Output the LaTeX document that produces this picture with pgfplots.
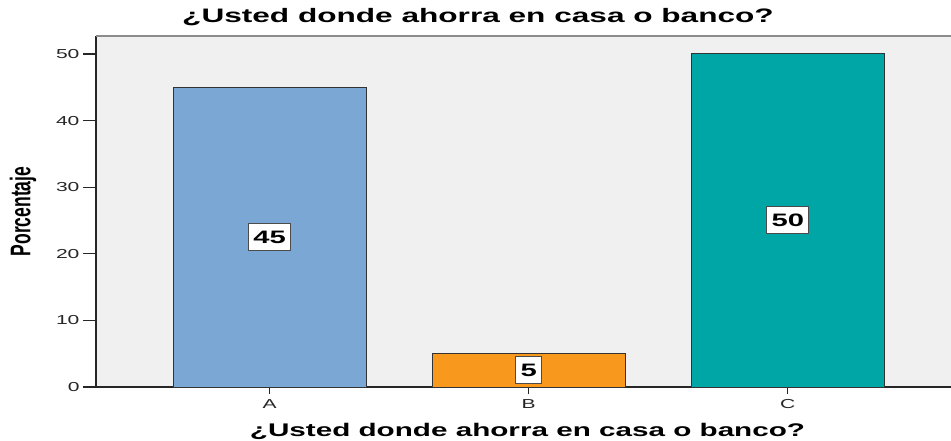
\documentclass[border=0pt]{standalone}
\usepackage{fontspec}
\usepackage{pgfplots}
\pgfplotsset{compat=1.18}
\setmainfont{Liberation Sans}
% the reference is stretched sideways, so are its fonts
\newfontfamily\wide[FakeStretch=1.62]{Liberation Sans}
\newfontfamily\narrowf[FakeStretch=0.617]{Liberation Sans}
\definecolor{barA}{HTML}{7BA7D5}
\definecolor{barB}{HTML}{F8981D}
\definecolor{barC}{HTML}{00A6A5}
\definecolor{plotbg}{HTML}{F0F0F0}

\begin{document}
\begin{tikzpicture}
\begin{axis}[
  at={(0,0)},anchor=south west,
  scale only axis,width=855pt,height=351pt,
  xmin=-0.67,xmax=2.63,
  ymin=0,ymax=52.7,
  ybar,bar width=193pt,
  axis lines=left,axis line style={-,black!85,line width=1.2pt},
  axis background/.style={fill=plotbg},
  tick align=outside,
  major tick length=13pt,
  tick style={black!85,line width=1.2pt},
  xtick style={/pgfplots/major tick length=7pt},
  xtick={0,1,2},xticklabels={A,B,C},
  xticklabel style={yshift=4pt},
  ytick={0,10,20,30,40,50},
  /pgf/number format/assume math mode=true,
  ticklabel style={font=\wide\fontsize{13}{13}\selectfont,text=black!85},
  title={¿Usted donde ahorra en casa o banco?},
  title style={font=\wide\bfseries\fontsize{19.5}{20}\selectfont,
    at={(axis description cs:0,1)},anchor=base,xshift=382pt,yshift=7.7pt,inner sep=0pt},
  xlabel={¿Usted donde ahorra en casa o banco?},
  xlabel style={font=\wide\bfseries\fontsize{18.3}{19}\selectfont,
    at={(axis description cs:0,0)},anchor=base,xshift=431.5pt,yshift=-49pt,inner sep=0pt},
  ylabel={Porcentaje},
  ylabel style={font=\narrowf\bfseries\fontsize{28.4}{29}\selectfont,
    at={(axis description cs:0,0.5)},anchor=center,yshift=73pt,inner sep=0pt},
  nodes near coords,
  visualization depends on={y/2 \as \halfy},
  every node near coord/.append style={font=\wide\bfseries\fontsize{18}{18}\selectfont,
    anchor=center,shift={(axis direction cs:0,-\halfy)},
    fill=white,draw=black!70,line width=1pt,inner xsep=5pt,inner ysep=0pt,
    minimum height=27pt,text=black},
  extra description/.code={\draw[black!45,line width=1.2pt] (axis description cs:0,1) -- (axis description cs:1,1);},
]
\addplot[bar shift=0pt,fill=barA,draw=black!80,line width=1pt] coordinates {(0,45)};
\addplot[bar shift=0pt,fill=barB,draw=black!80,line width=1pt] coordinates {(1,5)};
\addplot[bar shift=0pt,fill=barC,draw=black!80,line width=1pt] coordinates {(2,50)};
\end{axis}
\pgfresetboundingbox
\path[use as bounding box] (-96pt,-53pt) rectangle (855pt,387pt);
\end{tikzpicture}
\end{document}
